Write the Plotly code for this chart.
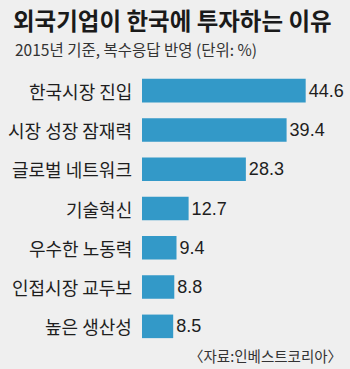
import plotly.graph_objects as go

categories = ["한국시장 진입", "시장 성장 잠재력", "글로벌 네트워크", "기술혁신", "우수한 노동력", "인접시장 교두보", "높은 생산성"]
values = [44.6, 39.4, 28.3, 12.7, 9.4, 8.8, 8.5]
title_text = "외국기업이 한국에 투자하는 이유"
subtitle_text = "2015년 기준, 복수응답 반영 (단위: %)"
source_text = "〈자료:인베스트코리아〉"

W, H = 350, 369
ml, mr, mt, mb = 142, 20, 71, 23
pw = W - ml - mr
ph = H - mt - mb
xmax = pw / 3.67

bg = "#efefef"
bar_color = "#3399c8"
kfont = "Noto Sans CJK KR"

fig = go.Figure()
fig.add_trace(go.Bar(
    x=values, y=categories, orientation="h",
    marker=dict(color=bar_color, line=dict(width=0)),
    width=0.6,
    text=[f"{v:.1f}" for v in values],
    textposition="outside",
    textfont=dict(family="Liberation Sans Narrow, Arial Narrow, Liberation Sans, sans-serif", size=18, color="#1e1e1e"),
    cliponaxis=False,
    hoverinfo="skip",
))

annotations = []
for c in categories:
    annotations.append(dict(
        x=0, y=c, xref="x", yref="y", text=c, showarrow=False,
        xanchor="right", yanchor="middle", xshift=-8,
        font=dict(family=kfont, size=18, color="#1e1e1e"),
    ))

annotations.append(dict(
    x=(13 - ml) / pw, y=(H - mb - 49) / ph, xref="paper", yref="paper",
    text=subtitle_text, showarrow=False, xanchor="left", yanchor="middle",
    font=dict(family=kfont, size=15.5, color="#333333"),
))
annotations.append(dict(
    x=(344 - ml) / pw, y=(H - mb - 355) / ph, xref="paper", yref="paper",
    text=source_text, showarrow=False, xanchor="right", yanchor="middle",
    font=dict(family=kfont, size=14.5, color="#333333"),
))

fig.update_layout(
    width=W, height=H,
    margin=dict(l=ml, r=mr, t=mt, b=mb, pad=0),
    paper_bgcolor=bg, plot_bgcolor=bg,
    showlegend=False,
    title=dict(text="<b>" + title_text + "</b>", xref="container", yref="container",
               x=13 / W, y=1 - 22 / H, xanchor="left", yanchor="middle",
               font=dict(family=kfont, size=23.5, color="#1a1a1a")),
    xaxis=dict(range=[0, xmax], visible=False, fixedrange=True),
    yaxis=dict(categoryorder="array", categoryarray=categories[::-1],
               showticklabels=False, showgrid=False, zeroline=False, showline=False,
               ticks="", fixedrange=True),
    annotations=annotations,
    bargap=0.4,
)

fig.write_html("out.html")
